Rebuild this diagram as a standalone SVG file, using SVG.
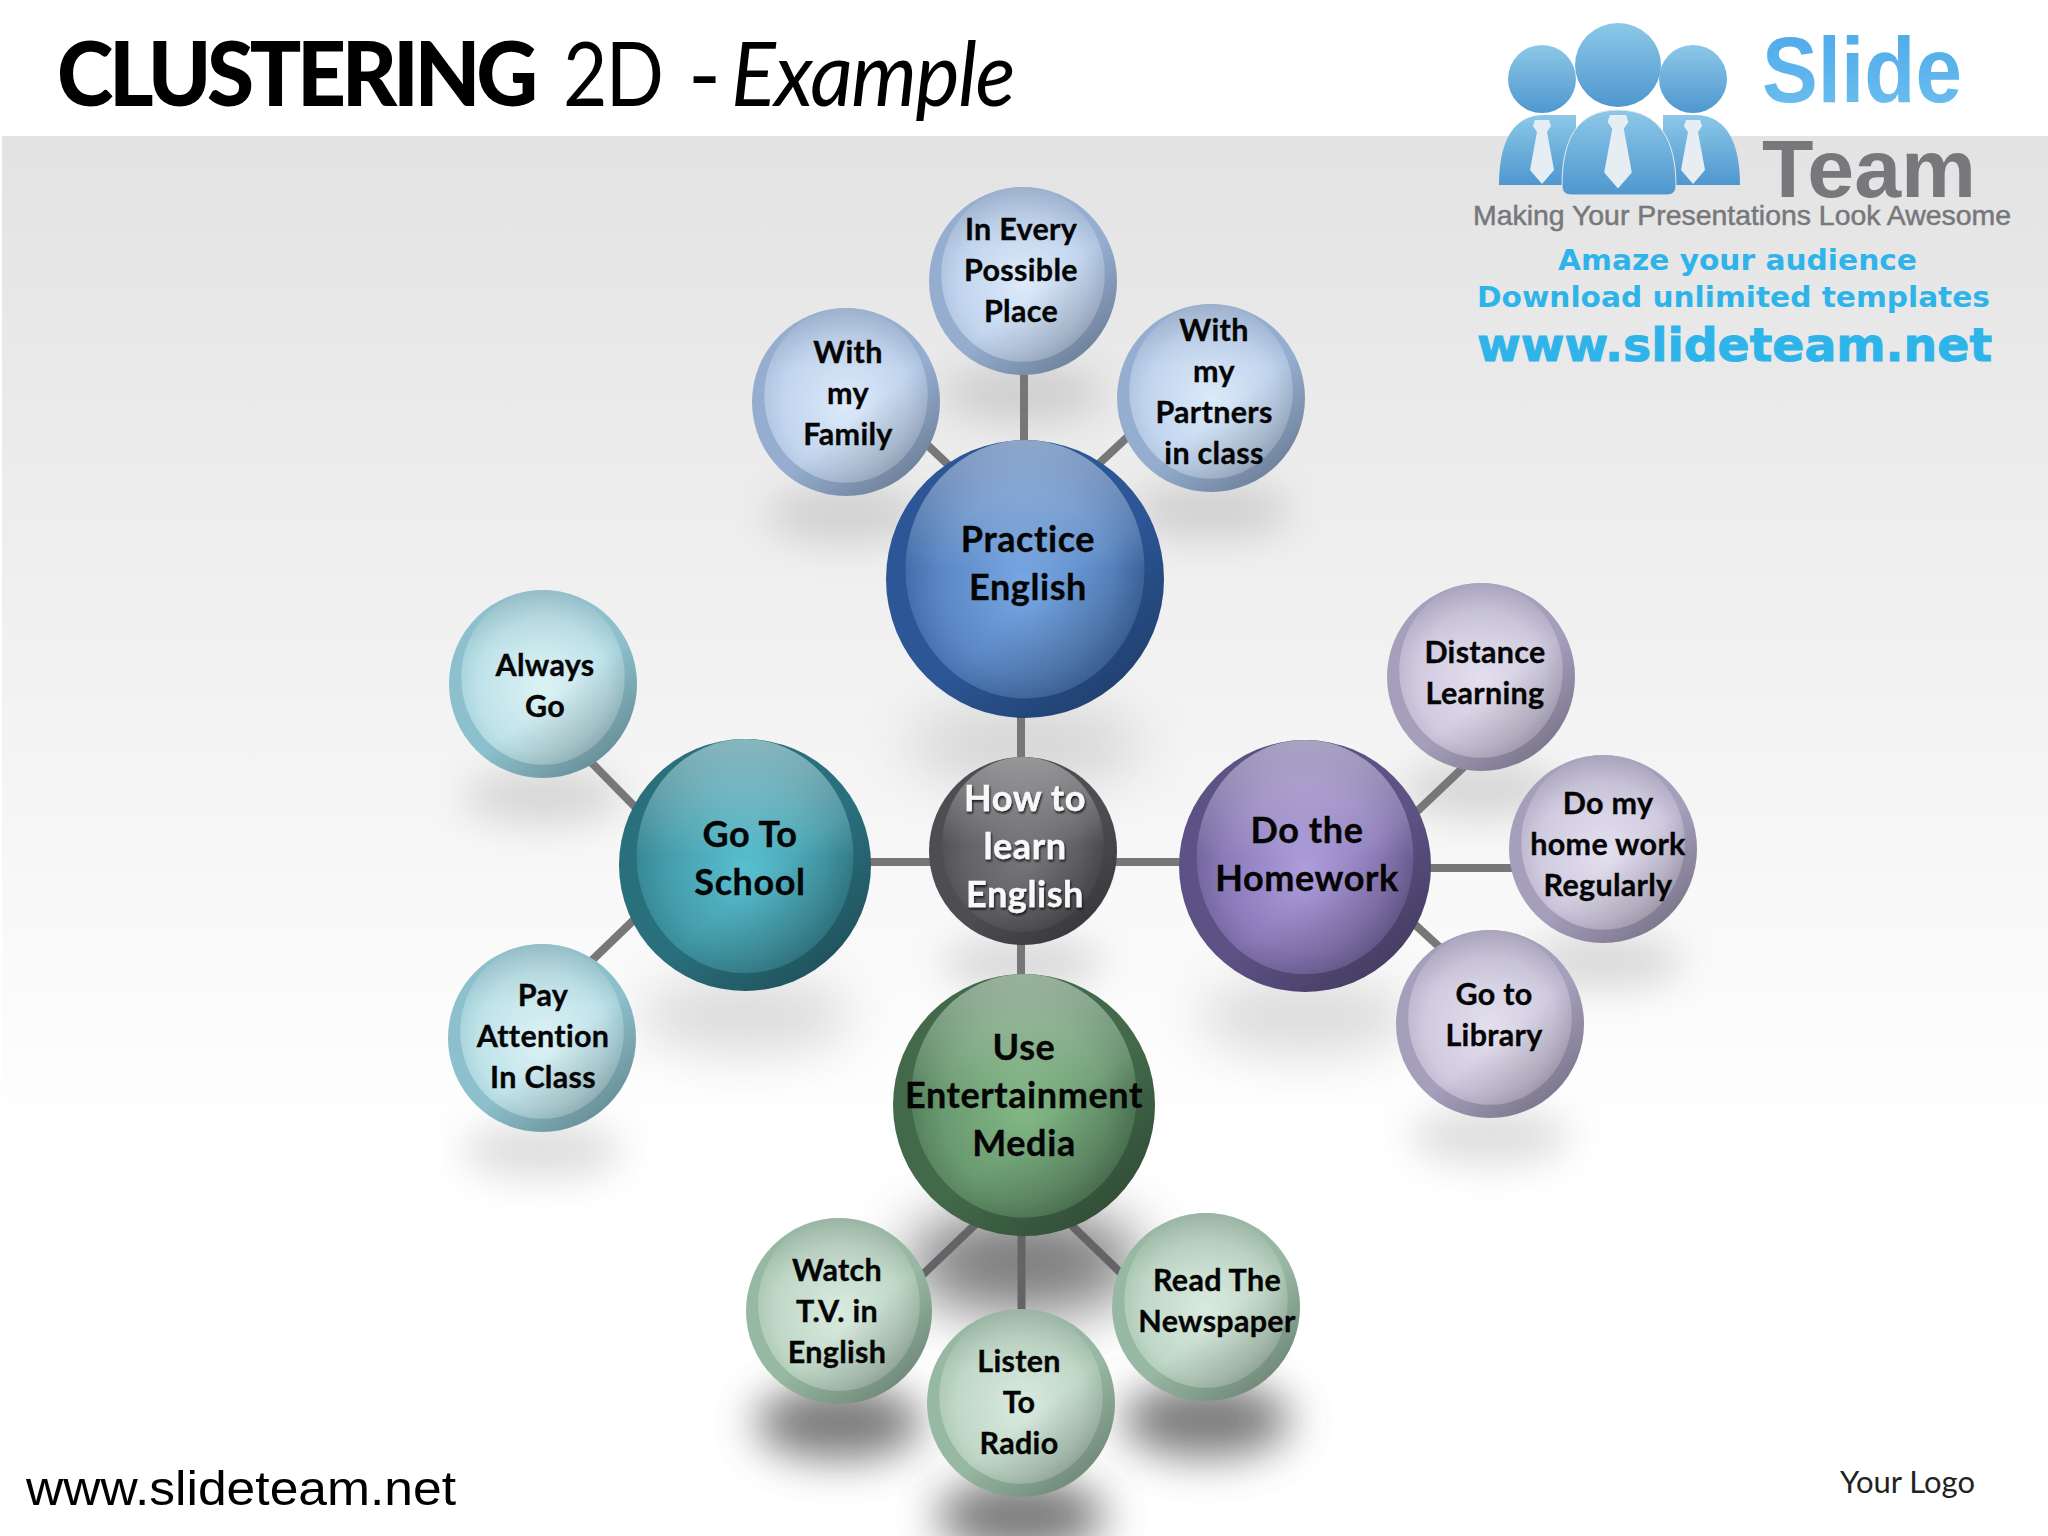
<svg xmlns="http://www.w3.org/2000/svg" xmlns:xlink="http://www.w3.org/1999/xlink" width="2048" height="1536" viewBox="0 0 2048 1536">
<style>
.c{stroke:#777;stroke-width:8;fill:none}
.d{stroke:#646468}
.big,.sm{font-family:"Lato","Liberation Sans",sans-serif;font-weight:700;fill:#050505;text-anchor:middle;stroke:#050505;stroke-width:.35px}
.big{font-size:36px;letter-spacing:.6px}
.sm{font-size:30.500px;letter-spacing:.3px}
.w{fill:#f8f8f8;stroke:#f8f8f8;filter:url(#ts)}
.t{font-family:"Lato","Liberation Sans",sans-serif;fill:#000}
.lg{font-family:"Liberation Sans",sans-serif;font-weight:700}
.lv{font-family:"DejaVu Sans",sans-serif;font-weight:700;fill:#2fb4ea}
</style>
<defs>
<linearGradient id="bg" x1="0" y1="0" x2="0" y2="1"><stop offset="0" stop-color="#e3e3e4"/><stop offset=".72" stop-color="#fff"/></linearGradient>
<filter id="blur" x="-80%" y="-150%" width="260%" height="400%"><feGaussianBlur stdDeviation=".2"/></filter>
<filter id="blurD" x="-80%" y="-150%" width="260%" height="400%"><feGaussianBlur stdDeviation=".23"/></filter>
<filter id="ts" x="-10%" y="-10%" width="120%" height="130%"><feDropShadow dx="1" dy="2" stdDeviation="1.200" flood-color="#111" flood-opacity=".9"/></filter>
<radialGradient id="gb" cy=".55" r=".6"><stop offset="0" stop-color="#78a8e4"/><stop offset=".6" stop-color="#5a87c4"/><stop offset="1" stop-color="#315b98"/></radialGradient>
<radialGradient id="gbs" cy=".55" r=".6"><stop offset="0" stop-color="#dceaf9"/><stop offset=".65" stop-color="#c2d5ee"/><stop offset="1" stop-color="#a3b9d8"/></radialGradient>
<radialGradient id="gt" cy=".55" r=".6"><stop offset="0" stop-color="#58c0d0"/><stop offset=".6" stop-color="#459dab"/><stop offset="1" stop-color="#2e7986"/></radialGradient>
<radialGradient id="gts" cy=".55" r=".6"><stop offset="0" stop-color="#dcf2f5"/><stop offset=".65" stop-color="#bfe3e9"/><stop offset="1" stop-color="#98c8d2"/></radialGradient>
<radialGradient id="gp" cy=".55" r=".6"><stop offset="0" stop-color="#ae9ddb"/><stop offset=".6" stop-color="#8d7cbb"/><stop offset="1" stop-color="#62578c"/></radialGradient>
<radialGradient id="gps" cy=".55" r=".6"><stop offset="0" stop-color="#e3dfee"/><stop offset=".65" stop-color="#d0cbdf"/><stop offset="1" stop-color="#b1aac5"/></radialGradient>
<radialGradient id="gg" cy=".55" r=".6"><stop offset="0" stop-color="#83b886"/><stop offset=".6" stop-color="#6a9a70"/><stop offset="1" stop-color="#466f4e"/></radialGradient>
<radialGradient id="ggs" cy=".55" r=".6"><stop offset="0" stop-color="#d9eadf"/><stop offset=".65" stop-color="#c0d8c7"/><stop offset="1" stop-color="#a0bea9"/></radialGradient>
<radialGradient id="gc" cy=".55" r=".6"><stop offset="0" stop-color="#77777c"/><stop offset=".6" stop-color="#626267"/><stop offset="1" stop-color="#47474b"/></radialGradient>
<linearGradient id="gloss" x1="0" y1="0" x2="0" y2="1"><stop offset="0" stop-color="#fff" stop-opacity=".42"/><stop offset=".5" stop-color="#fff" stop-opacity="0"/></linearGradient>
<linearGradient id="dim" x1="0" y1="0" x2="0" y2="1"><stop offset="0" stop-color="#223" stop-opacity=".1"/><stop offset=".35" stop-color="#223" stop-opacity="0"/></linearGradient>
<linearGradient id="shade" x1=".25" y1=".2" x2=".85" y2=".95"><stop offset=".5" stop-color="#000" stop-opacity="0"/><stop offset="1" stop-color="#000" stop-opacity=".28"/></linearGradient>
<linearGradient id="lb" x1="0" y1="0" x2="0" y2="1"><stop offset="0" stop-color="#8cc8e8"/><stop offset="1" stop-color="#4f97cf"/></linearGradient>
<linearGradient id="sl" x1="0" y1="0" x2="0" y2="1"><stop offset="0" stop-color="#4aa8ea"/><stop offset="1" stop-color="#6fc0ee"/></linearGradient>
<ellipse id="shL" cx="0" cy="1.2" rx=".85" ry=".3" fill="#777" opacity=".24" filter="url(#blur)"/>
<ellipse id="shD" cx="0" cy="1.2" rx=".9" ry=".4" fill="#555" opacity=".78" filter="url(#blurD)"/>
<g id="gl"><circle r="1" fill="url(#shade)"/><ellipse cy="-.07" rx=".86" ry=".93" fill="url(#gloss)"/></g>
<g id="gs"><circle r="1" fill="url(#shade)"/><ellipse cy="-.07" rx=".87" ry=".93" fill="url(#dim)"/></g>
<g id="blueL"><circle r="1" fill="#2c5695"/><ellipse cy="-.07" rx=".86" ry=".93" fill="url(#gb)"/><use href="#gl"/></g>
<g id="blueS"><circle r="1" fill="#95aed0"/><ellipse cy="-.07" rx=".87" ry=".93" fill="url(#gbs)"/><use href="#gs"/></g>
<g id="tealL"><circle r="1" fill="#2a6f7c"/><ellipse cy="-.07" rx=".86" ry=".93" fill="url(#gt)"/><use href="#gl"/></g>
<g id="tealS"><circle r="1" fill="#8cc0cc"/><ellipse cy="-.07" rx=".87" ry=".93" fill="url(#gts)"/><use href="#gs"/></g>
<g id="purpL"><circle r="1" fill="#5d5285"/><ellipse cy="-.07" rx=".86" ry=".93" fill="url(#gp)"/><use href="#gl"/></g>
<g id="purpS"><circle r="1" fill="#a69fbc"/><ellipse cy="-.07" rx=".87" ry=".93" fill="url(#gps)"/><use href="#gs"/></g>
<g id="greenL"><circle r="1" fill="#42694a"/><ellipse cy="-.07" rx=".86" ry=".93" fill="url(#gg)"/><use href="#gl"/></g>
<g id="greenS"><circle r="1" fill="#97b8a2"/><ellipse cy="-.07" rx=".87" ry=".93" fill="url(#ggs)"/><use href="#gs"/></g>
<g id="grayL"><circle r="1" fill="#4d4d52"/><ellipse cy="-.07" rx=".86" ry=".93" fill="url(#gc)"/><use href="#gl"/></g>
<path id="tie" d="M-7 0h14l2 6-4 6 7 38-12 14-12-14 7-38-4-6z" fill="#e6eef4"/>
</defs>
<rect width="2048" height="1536" fill="#fff"/>
<rect x="2" y="136" width="2046" height="1400" fill="url(#bg)"/>
<g id="title">
<text class="t" transform="translate(57,106) scale(.96,1)" font-size="89" font-weight="900" letter-spacing="-4.500">CLUSTERING</text>
<text class="t" transform="translate(563,106) scale(.86,1)" font-size="89" letter-spacing="-2">2D</text>
<text class="t" x="688" y="106" font-size="89">-</text>
<text class="t" transform="translate(731,106) scale(.937,1)" font-size="89" font-style="italic" letter-spacing="-1.500">Example</text>
</g>
<g id="logo">
<ellipse cx="1542" cy="79" rx="34" ry="34" fill="url(#lb)"/>
<ellipse cx="1693" cy="79" rx="34" ry="34" fill="url(#lb)"/>
<ellipse cx="1618" cy="65" rx="43" ry="42" fill="url(#lb)"/>
<path d="M1499 185c0-40 12-70 45-70h32v70z" fill="url(#lb)"/>
<path d="M1740 185c0-40-12-70-45-70h-32v70z" fill="url(#lb)"/>
<path d="M1562 186c0-45 14-76 56-76s58 31 58 76c0 6-4 9-9 9h-96c-5 0-9-3-9-9z" fill="url(#lb)" stroke="#eaeaea" stroke-width="1"/>
<use href="#tie" x="1542" y="120"/><use href="#tie" x="1693" y="120"/><use href="#tie" transform="translate(1618,115) scale(1.15)"/>
<text class="lg" x="1762" y="102" font-size="93" fill="url(#sl)" textLength="200" lengthAdjust="spacingAndGlyphs">Slide</text>
<text class="lg" x="1762" y="197" font-size="82" fill="#77787b" textLength="214" lengthAdjust="spacingAndGlyphs">Team</text>
<text x="1473" y="225" font-family="Liberation Sans, sans-serif" font-size="28" fill="#77787b" stroke="#77787b" stroke-width=".5" textLength="538" lengthAdjust="spacingAndGlyphs">Making Your Presentations Look Awesome</text>
<text class="lv" x="1558" y="270" font-size="29" textLength="359" lengthAdjust="spacingAndGlyphs">Amaze your audience</text>
<text class="lv" x="1477" y="307" font-size="29" textLength="513" lengthAdjust="spacingAndGlyphs">Download unlimited templates</text>
<text class="lv" x="1477" y="361" font-size="47" stroke="#2fb4ea" stroke-width="1" textLength="515" lengthAdjust="spacingAndGlyphs">www.slideteam.net</text>
</g>
<g id="shadows">
<use href="#shL" transform="translate(1023,281) scale(94)"/><use href="#shL" transform="translate(846,402) scale(94)"/><use href="#shL" transform="translate(1211,398) scale(94)"/>
<use href="#shL" transform="translate(1025,579) scale(139)"/><use href="#shL" transform="translate(745,865) scale(126)"/><use href="#shL" transform="translate(1305,866) scale(126)"/>
<use href="#shL" transform="translate(543,684) scale(94)"/><use href="#shL" transform="translate(542,1038) scale(94)"/>
<use href="#shL" transform="translate(1481,677) scale(94)"/><use href="#shL" transform="translate(1603,849) scale(94)"/><use href="#shL" transform="translate(1490,1024) scale(94)"/>
<use href="#shL" transform="translate(1022,851) scale(94)"/>
<use href="#shD" transform="translate(1024,1105) scale(131)"/>
<use href="#shD" transform="translate(839,1311) scale(93)"/><use href="#shD" transform="translate(1021,1403) scale(94)"/><use href="#shD" transform="translate(1206,1307) scale(94)"/>
</g>
<g id="connectors">
<line class="c" x1="1024" y1="360" x2="1024" y2="450"/>
<line class="c" x1="920" y1="438" x2="960" y2="476"/>
<line class="c" x1="1135" y1="430" x2="1090" y2="472"/>
<line class="c" x1="1021" y1="700" x2="1021" y2="770"/>
<line class="c" x1="860" y1="862" x2="940" y2="862"/>
<line class="c" x1="1105" y1="862" x2="1190" y2="862"/>
<line class="c" x1="1021" y1="935" x2="1021" y2="990"/>
<line class="c" x1="585" y1="756" x2="640" y2="812"/>
<line class="c" x1="585" y1="967" x2="640" y2="914"/>
<line class="c" x1="1410" y1="818" x2="1470" y2="761"/>
<line class="c" x1="1420" y1="868" x2="1520" y2="868"/>
<line class="c" x1="1410" y1="920" x2="1448" y2="955"/>
<line class="c d" x1="980" y1="1220" x2="915" y2="1282"/>
<line class="c d" x1="1021.500" y1="1225" x2="1021.500" y2="1320"/>
<line class="c d" x1="1066" y1="1220" x2="1125" y2="1277"/>
</g>
<g id="node-center"><use href="#grayL" transform="translate(1023,851) scale(94)"/>
<text class="big w" x="1025" y="811">How to</text><text class="big w" x="1025" y="859">learn</text><text class="big w" x="1025" y="907">English</text></g>
<g id="node-practice"><use href="#blueL" transform="translate(1025,579) scale(139)"/>
<text class="big" x="1028" y="552">Practice</text><text class="big" x="1028" y="600">English</text></g>
<g id="node-school"><use href="#tealL" transform="translate(745,865) scale(126)"/>
<text class="big" x="750" y="847">Go To</text><text class="big" x="750" y="895">School</text></g>
<g id="node-homework"><use href="#purpL" transform="translate(1305,866) scale(126)"/>
<text class="big" x="1307" y="843">Do the</text><text class="big" x="1307" y="891">Homework</text></g>
<g id="node-media"><use href="#greenL" transform="translate(1024,1105) scale(131)"/>
<text class="big" x="1024" y="1060">Use</text><text class="big" x="1024" y="1108">Entertainment</text><text class="big" x="1024" y="1156">Media</text></g>
<g id="node-every"><use href="#blueS" transform="translate(1023,281) scale(94)"/>
<text class="sm" x="1021" y="240">In Every</text><text class="sm" x="1021" y="281">Possible</text><text class="sm" x="1021" y="322">Place</text></g>
<g id="node-family"><use href="#blueS" transform="translate(846,402) scale(94)"/>
<text class="sm" x="848" y="363">With</text><text class="sm" x="848" y="404">my</text><text class="sm" x="848" y="445">Family</text></g>
<g id="node-partners"><use href="#blueS" transform="translate(1211,398) scale(94)"/>
<text class="sm" x="1214" y="341">With</text><text class="sm" x="1214" y="382">my</text><text class="sm" x="1214" y="423">Partners</text><text class="sm" x="1214" y="464">in class</text></g>
<g id="node-always"><use href="#tealS" transform="translate(543,684) scale(94)"/>
<text class="sm" x="545" y="676">Always</text><text class="sm" x="545" y="717">Go</text></g>
<g id="node-attention"><use href="#tealS" transform="translate(542,1038) scale(94)"/>
<text class="sm" x="543" y="1006">Pay</text><text class="sm" x="543" y="1047">Attention</text><text class="sm" x="543" y="1088">In Class</text></g>
<g id="node-distance"><use href="#purpS" transform="translate(1481,677) scale(94)"/>
<text class="sm" x="1485" y="663">Distance</text><text class="sm" x="1485" y="704">Learning</text></g>
<g id="node-domy"><use href="#purpS" transform="translate(1603,849) scale(94)"/>
<text class="sm" x="1608" y="814">Do my</text><text class="sm" x="1608" y="855">home work</text><text class="sm" x="1608" y="896">Regularly</text></g>
<g id="node-library"><use href="#purpS" transform="translate(1490,1024) scale(94)"/>
<text class="sm" x="1494" y="1005">Go to</text><text class="sm" x="1494" y="1046">Library</text></g>
<g id="node-watch"><use href="#greenS" transform="translate(839,1311) scale(93)"/>
<text class="sm" x="837" y="1281">Watch</text><text class="sm" x="837" y="1322">T.V. in</text><text class="sm" x="837" y="1363">English</text></g>
<g id="node-listen"><use href="#greenS" transform="translate(1021,1403) scale(94)"/>
<text class="sm" x="1019" y="1372">Listen</text><text class="sm" x="1019" y="1413">To</text><text class="sm" x="1019" y="1454">Radio</text></g>
<g id="node-read"><use href="#greenS" transform="translate(1206,1307) scale(94)"/>
<text class="sm" x="1217" y="1291">Read The</text><text class="sm" x="1217" y="1332">Newspaper</text></g>
<g id="footer">
<text x="26" y="1505" font-family="Liberation Sans, sans-serif" font-size="49" fill="#000" textLength="430" lengthAdjust="spacingAndGlyphs">www.slideteam.net</text>
<text x="1840" y="1493" font-family="Lato, sans-serif" font-size="30" fill="#222" textLength="135" lengthAdjust="spacingAndGlyphs">Your Logo</text>
</g>
</svg>
